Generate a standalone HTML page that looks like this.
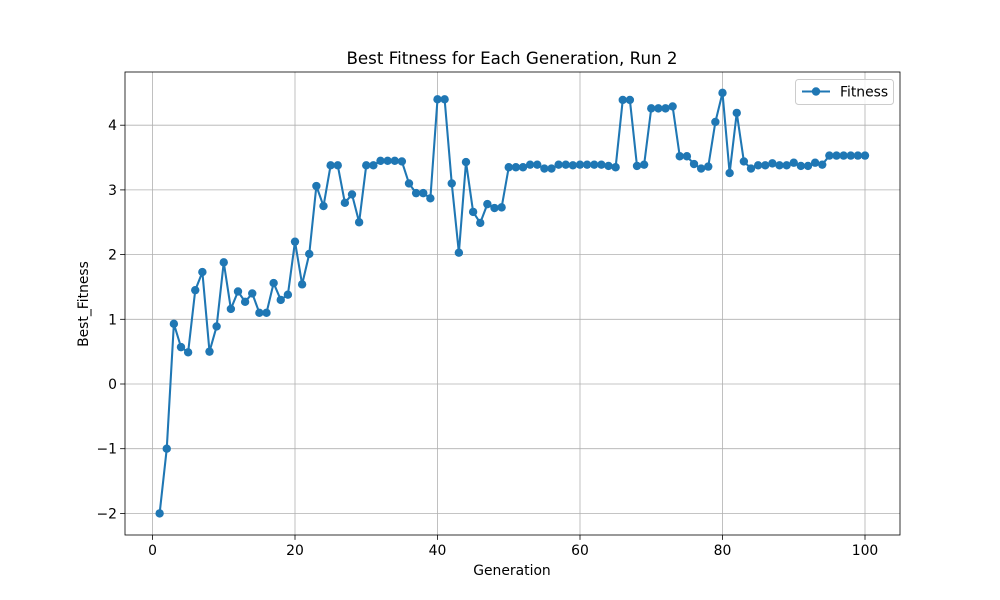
<!DOCTYPE html>
<html><head><meta charset="utf-8">
<style>
html,body{margin:0;padding:0;background:#fff;}
svg{display:block;font-family:"DejaVu Sans","Liberation Sans",sans-serif;}
</style></head>
<body>
<svg id="chart" width="1000" height="600" viewBox="0 0 1000 600">
  <rect x="0" y="0" width="1000" height="600" fill="#fff"/>
  <g id="grid"></g>
  <g id="xticks"></g>
  <g id="yticks"></g>
  <g id="series"></g>
  <rect x="125" y="72" width="775" height="463" fill="none" stroke="#000" stroke-width="0.8"/>
  <text x="512" y="64" text-anchor="middle" font-size="16.7" fill="#000">Best Fitness for Each Generation, Run 2</text>
  <text x="512" y="575" text-anchor="middle" font-size="13.9" fill="#000">Generation</text>
  <text x="88" y="304" text-anchor="middle" font-size="13.9" fill="#000" transform="rotate(-90 88 304)">Best_Fitness</text>
  <g>
    <rect x="795.5" y="79.5" width="98" height="25" rx="3" fill="#fff" fill-opacity="0.8" stroke="#ccc"/>
    <line x1="802" y1="91.5" x2="830" y2="91.5" stroke="#1f77b4" stroke-width="2.08"/>
    <circle cx="816" cy="91.5" r="4.2" fill="#1f77b4"/>
    <text x="840" y="96.5" font-size="13.9" fill="#000">Fitness</text>
  </g>
</svg>
<script>
const generations = Array.from({length:100},(_,i)=>i+1);
const fitness = [-2,-1,0.93,0.57,0.49,1.45,1.73,0.5,0.89,1.88,
1.16,1.43,1.27,1.4,1.1,1.1,1.56,1.3,1.38,2.2,
1.54,2.01,3.06,2.75,3.38,3.38,2.8,2.93,2.5,3.38,
3.38,3.45,3.45,3.45,3.44,3.1,2.95,2.95,2.87,4.4,
4.4,3.1,2.03,3.43,2.66,2.49,2.78,2.72,2.73,3.35,
3.35,3.35,3.39,3.39,3.33,3.33,3.39,3.39,3.38,3.39,
3.39,3.39,3.39,3.37,3.35,4.39,4.39,3.37,3.39,4.26,
4.26,4.26,4.29,3.52,3.52,3.4,3.33,3.36,4.05,4.5,
3.26,4.19,3.44,3.33,3.38,3.38,3.41,3.38,3.38,3.42,
3.37,3.37,3.42,3.39,3.53,3.53,3.53,3.53,3.53,3.53];
const xTickValues = [0,20,40,60,80,100];
const yTickValues = [-2,-1,0,1,2,3,4];
const yTickLabels = ["\u22122","\u22121","0","1","2","3","4"];

const NS="http://www.w3.org/2000/svg";
const X0=125,X1=900,Y0=72,Y1=535;
const sx=v=>152.5+v*7.125;
const sy=v=>384-v*64.7;
function mk(tag,attrs,parent){const e=document.createElementNS(NS,tag);for(const k in attrs)e.setAttribute(k,attrs[k]);parent.appendChild(e);return e;}
const grid=document.getElementById('grid'),xt=document.getElementById('xticks'),yt=document.getElementById('yticks'),ser=document.getElementById('series');
xTickValues.forEach(v=>{
  const x=sx(v);
  const g=mk('line',{x1:x,y1:Y0,x2:x,y2:Y1,stroke:'#b0b0b0','stroke-width':0.8},grid);
  
  
  const t=mk('line',{x1:x,y1:Y1,x2:x,y2:Y1+4.9,stroke:'#000','stroke-width':0.8},xt);
  
  
  const l=mk('text',{x:x,y:Y1+20,'text-anchor':'middle','font-size':13.9,fill:'#000'},xt);
  l.textContent=String(v);
  
  
});
yTickValues.forEach((v,i)=>{
  const y=sy(v);
  const g=mk('line',{x1:X0,y1:y,x2:X1,y2:y,stroke:'#b0b0b0','stroke-width':0.8},grid);
  
  
  const t=mk('line',{x1:X0-4.9,y1:y,x2:X0,y2:y,stroke:'#000','stroke-width':0.8},yt);
  
  
  const l=mk('text',{x:X0-8,y:y+5,'text-anchor':'end','font-size':13.9,fill:'#000'},yt);
  l.textContent=yTickLabels[i];
  
  
});
const pts=generations.map((g,i)=>sx(g)+','+sy(fitness[i])).join(' ');
const line=mk('polyline',{points:pts,fill:'none',stroke:'#1f77b4','stroke-width':2.08,'stroke-linejoin':'round'},ser);


generations.forEach((g,i)=>{
  const c=mk('circle',{cx:sx(g),cy:sy(fitness[i]),r:4.2,fill:'#1f77b4'},ser);
  
  
});
</script>
</body></html>
